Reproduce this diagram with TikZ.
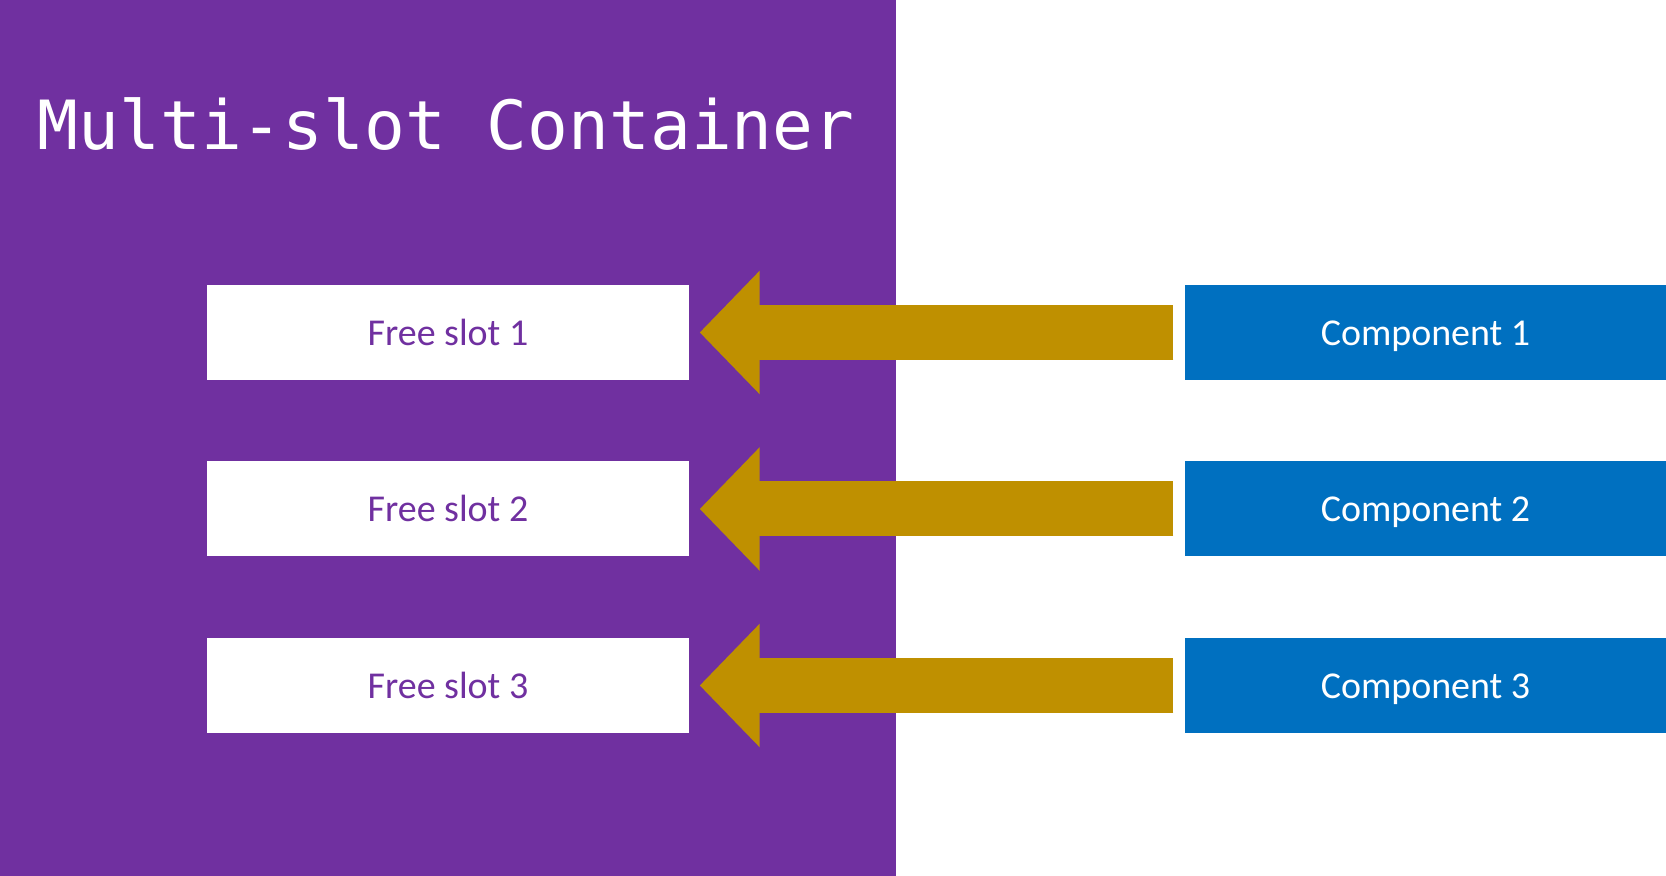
\documentclass[tikz,border=0pt]{standalone}
\usepackage{fontspec}
\setmainfont{Carlito}
\setmonofont{DejaVu Sans Mono}
\usetikzlibrary{arrows.meta}
\definecolor{cpurple}{HTML}{7030A0}
\definecolor{cgold}{HTML}{BF9000}
\definecolor{cblue}{HTML}{0070C0}
\tikzset{
	slot/.style={fill=white, text=cpurple, minimum width=4.82cm, minimum height=0.95cm, inner sep=0pt, text height=0.74em, text depth=0pt, font=\fontsize{10.8}{13}\selectfont},
	comp/.style={fill=cblue, text=white, minimum width=4.81cm, minimum height=0.95cm, inner sep=0pt, text height=0.74em, text depth=0pt, font=\fontsize{10.8}{13}\selectfont},
	fat/.style={draw=cgold, line width=0.55cm, -{Triangle[length=0.6cm 0 0, width=1.2cm 0 0]}, shorten >=0.1cm, shorten <=0.11cm}
}
\begin{document}
\begin{tikzpicture}
	\useasboundingbox (0,0) rectangle (16.66,8.76);
	\fill[cpurple] (0,0) rectangle (8.96,8.76);
	\node[anchor=base west, inner sep=0pt, text=white, font=\ttfamily\fontsize{19.3}{22}\selectfont] (title) at (0.37,7.26) {Multi-slot Container};
	\node[slot] (s1) at (4.48,5.435) {Free slot 1};
	\node[slot] (s2) at (4.48,3.67) {Free slot 2};
	\node[slot] (s3) at (4.48,1.905) {Free slot 3};
	\node[comp] (c1) at (14.255,5.435) {Component 1};
	\node[comp] (c2) at (14.255,3.67) {Component 2};
	\node[comp] (c3) at (14.255,1.905) {Component 3};
	\draw[fat] (c1.west) -- (s1.east);
	\draw[fat] (c2.west) -- (s2.east);
	\draw[fat] (c3.west) -- (s3.east);
\end{tikzpicture}
\end{document}
